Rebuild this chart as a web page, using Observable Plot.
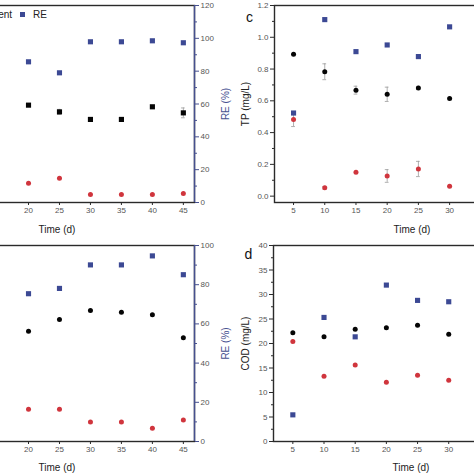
<!DOCTYPE html>
<html><head><meta charset="utf-8">
<script src="https://cdn.jsdelivr.net/npm/d3@7"></script>
<script src="https://cdn.jsdelivr.net/npm/@observablehq/plot@0.6"></script>
<style>
html,body{margin:0;padding:0;background:#fff;}
#root{position:relative;width:474px;height:474px;overflow:hidden;background:#fff;font-family:"Liberation Sans",Arial,sans-serif;}
.panel{position:absolute;width:237px;height:237px;overflow:hidden;}
.legend{position:absolute;white-space:nowrap;font-size:10px;line-height:10px;color:#222;}
.mk{display:inline-block;width:5px;height:5px;vertical-align:1px;}
</style></head><body><div id="root"></div>
<script>
// ---------- data ----------
const daysAB = [20, 25, 30, 35, 40, 45];
const daysCD = [5, 10, 15, 20, 25, 30];
const xTicksAB = [20, 25, 30, 35, 40, 45];
const xTicksCD = [5, 10, 15, 20, 25, 30];
const legendLabels = ["Influent", "Effluent", "RE"];

// panel a (left concentration axis off-picture, right RE axis)
const aInfluent = [5.93, 5.52, 5.06, 5.06, 5.83, 5.46];
const aInfluentErr = [0, 0.15, 0, 0, 0, 0.3];
const aEffluent = [1.18, 1.48, 0.49, 0.49, 0.49, 0.55];
const aRE = [85.7, 79.0, 97.9, 97.9, 98.5, 97.3];

// panel b
const bInfluent = [11.26, 12.44, 13.36, 13.18, 12.94, 10.58];
const bEffluent = [3.28, 3.28, 2.0, 2.0, 1.36, 2.2];
const bRE = [75.4, 78.1, 90.1, 90.1, 94.7, 85.1];

// panel c  TP (mg/L)
const cInfluent = [0.893, 0.783, 0.667, 0.641, 0.681, 0.614];
const cInfluentErr = [0, 0.05, 0.025, 0.045, 0.01, 0];
const cEffluent = [0.483, 0.053, 0.150, 0.127, 0.171, 0.063];
const cEffluentErr = [0.045, 0.008, 0, 0.04, 0.048, 0];
const cRE = [43.6, 92.6, 75.8, 79.3, 73.2, 88.8];

// panel d  COD (mg/L)
const dInfluent = [22.2, 21.4, 22.9, 23.2, 23.7, 21.9];
const dEffluent = [20.4, 13.3, 15.6, 12.1, 13.5, 12.5];
const dRE = [13.6, 63.3, 53.4, 79.8, 72.0, 71.3];

// ---------- styles ----------
const BLUE = "#3c4994";
const RED = "#d0353d";
const BLACK = "#050505";
const AXIS = "#2a2a2a";
const BLUE_AXIS = "#46508f";
const TICKTXT = "#555";

function rows(xs, vs, errs) {
  return xs.map((x, i) => ({x, v: vs[i], e: errs ? errs[i] : 0}));
}

function makePanel(o) {
  const marks = [];
  marks.push(Plot.frame({stroke: AXIS, strokeWidth: 1.4}));
  if (o.blueRight) marks.push(Plot.ruleX([o.xDomain[1]], {stroke: BLUE_AXIS, strokeWidth: 1.4}));
  marks.push(Plot.axisX({ticks: o.xTicks, tickSize: 3, tickPadding: 2, fontSize: 8,
    stroke: AXIS, fill: TICKTXT, tickFormat: d => String(d), label: null}));
  const yStroke = o.blueRight ? BLUE_AXIS : AXIS;
  marks.push(Plot.axisY({anchor: o.yAnchor, ticks: o.yTicks, tickSize: 4, tickPadding: 2, fontSize: 8,
    stroke: yStroke, fill: TICKTXT, tickFormat: o.yFormat, label: null}));
  marks.push(Plot.axisY({anchor: o.yAnchor, ticks: o.yMinor, tickSize: 2, fontSize: 8,
    stroke: yStroke, tickFormat: () => "", label: null}));
  for (const s of o.series) {
    const err = s.data.filter(d => d.e > 0);
    if (err.length) {
      const f = s.factor;
      marks.push(Plot.ruleX(err, {x: "x", y1: d => (d.v - d.e) * f, y2: d => (d.v + d.e) * f, stroke: "#9a9a9a", strokeWidth: 0.8}));
      marks.push(Plot.ruleY(err, {y: d => (d.v - d.e) * f, x1: d => d.x - 0.3, x2: d => d.x + 0.3, stroke: "#9a9a9a", strokeWidth: 0.8}));
      marks.push(Plot.ruleY(err, {y: d => (d.v + d.e) * f, x1: d => d.x - 0.3, x2: d => d.x + 0.3, stroke: "#9a9a9a", strokeWidth: 0.8}));
    }
  }
  for (const s of o.series) {
    const f = s.factor;
    marks.push(Plot.dot(s.data, {x: "x", y: d => d.v * f, symbol: s.symbol, r: s.symbol === "square" ? 2.9 : 2.5, fill: s.color, stroke: "none"}));
  }
  marks.push(Plot.text([o.xLabel], {frameAnchor: "bottom", dy: o.xLabelDy, fontSize: 10, fill: "#222", textAnchor: "middle", lineAnchor: "middle"}));
  marks.push(Plot.text([o.yLabel], {frameAnchor: o.yAnchor, dx: o.yLabelDx, rotate: -90, fontSize: 10, fill: o.blueRight ? BLUE_AXIS : "#222", textAnchor: "middle", lineAnchor: "middle"}));
  if (o.letter) marks.push(Plot.text([o.letter], {frameAnchor: "top-left", dx: -25, dy: o.letterDy, fontSize: 14, fill: "#111", textAnchor: "middle", lineAnchor: "middle"}));

  const svg = Plot.plot({
    width: o.width, height: 237,
    marginLeft: o.marginLeft, marginRight: o.marginRight, marginTop: o.marginTop, marginBottom: o.marginBottom,
    x: {type: "linear", domain: o.xDomain, axis: null},
    y: {type: "linear", domain: o.yDomain, axis: null},
    style: {fontFamily: "Liberation Sans, Arial, sans-serif", fontSize: "8px", background: "transparent", maxWidth: "none", position: "absolute", left: o.svgLeft + "px", top: "0px"},
    marks
  });
  const div = document.createElement("div");
  div.className = "panel";
  div.style.left = o.left + "px";
  div.style.top = o.top + "px";
  div.appendChild(svg);
  document.getElementById("root").appendChild(div);
  return div;
}

const range = (a, b, s) => d3.range(a, b + s / 2, s);

// panel a
const pa = makePanel({
  left: 0, top: 0, svgLeft: -121, width: 358, marginLeft: 40, marginRight: 43, marginTop: 5, marginBottom: 35,
  xDomain: [2.4, 46.8], yDomain: [0, 120], xTicks: xTicksAB, yAnchor: "right",
  yTicks: range(0, 120, 20), yMinor: range(10, 110, 20), yFormat: d => String(d), blueRight: true,
  xLabel: "Time (d)", xLabelDy: 27, yLabel: "RE (%)", yLabelDx: 31,
  series: [
    {data: rows(daysAB, aInfluent, aInfluentErr), factor: 10, symbol: "square", color: BLACK},
    {data: rows(daysAB, aEffluent), factor: 10, symbol: "circle", color: RED},
    {data: rows(daysAB, aRE), factor: 1, symbol: "square", color: BLUE}
  ]
});

// legend in panel a
const lg = document.createElement("div");
lg.className = "legend";
lg.style.right = "190px";
lg.style.top = "10px";
const mkStyles = [
  `background:${BLACK};margin-right:4px;`,
  `background:${RED};border-radius:50%;margin:0 4px 0 8px;`,
  `background:${BLUE};margin:0 8px 0 8px;`
];
lg.innerHTML = legendLabels.map((t, i) => `<span class="mk" style="${mkStyles[i]}"></span>${t}`).join("");
pa.appendChild(lg);

// panel b
makePanel({
  left: 0, top: 237, svgLeft: -121, width: 358, marginLeft: 40, marginRight: 43, marginTop: 8, marginBottom: 33,
  xDomain: [2.4, 46.8], yDomain: [0, 100], xTicks: xTicksAB, yAnchor: "right",
  yTicks: range(0, 100, 20), yMinor: range(10, 90, 20), yFormat: d => String(d), blueRight: true,
  xLabel: "Time (d)", xLabelDy: 26, yLabel: "RE (%)", yLabelDx: 31,
  series: [
    {data: rows(daysAB, bInfluent), factor: 5, symbol: "circle", color: BLACK},
    {data: rows(daysAB, bEffluent), factor: 5, symbol: "circle", color: RED},
    {data: rows(daysAB, bRE), factor: 1, symbol: "square", color: BLUE}
  ]
});

// panel c
makePanel({
  left: 237, top: 0, svgLeft: 0, width: 352, marginLeft: 37, marginRight: 40, marginTop: 5, marginBottom: 35,
  xDomain: [1.95, 46.0], yDomain: [-0.04, 1.2], xTicks: xTicksCD, yAnchor: "left",
  yTicks: range(0, 1.2, 0.2), yMinor: range(0.1, 1.1, 0.2), yFormat: d3.format(".1f"), blueRight: false,
  xLabel: "Time (d)", xLabelDy: 27, yLabel: "TP (mg/L)", yLabelDx: -29, letter: "c", letterDy: 12,
  series: [
    {data: rows(daysCD, cInfluent, cInfluentErr), factor: 1, symbol: "circle", color: BLACK},
    {data: rows(daysCD, cEffluent, cEffluentErr), factor: 1, symbol: "circle", color: RED},
    {data: rows(daysCD, cRE), factor: 0.012, symbol: "square", color: BLUE}
  ]
});

// panel d
makePanel({
  left: 237, top: 237, svgLeft: 0, width: 352, marginLeft: 36, marginRight: 41, marginTop: 8, marginBottom: 33,
  xDomain: [1.9, 46.0], yDomain: [0, 40], xTicks: xTicksCD, yAnchor: "left",
  yTicks: range(0, 40, 5), yMinor: range(2.5, 37.5, 5), yFormat: d => String(d), blueRight: false,
  xLabel: "Time (d)", xLabelDy: 26, yLabel: "COD (mg/L)", yLabelDx: -28, letter: "d", letterDy: 9,
  series: [
    {data: rows(daysCD, dInfluent), factor: 1, symbol: "circle", color: BLACK},
    {data: rows(daysCD, dEffluent), factor: 1, symbol: "circle", color: RED},
    {data: rows(daysCD, dRE), factor: 0.4, symbol: "square", color: BLUE}
  ]
});
</script></body></html>
